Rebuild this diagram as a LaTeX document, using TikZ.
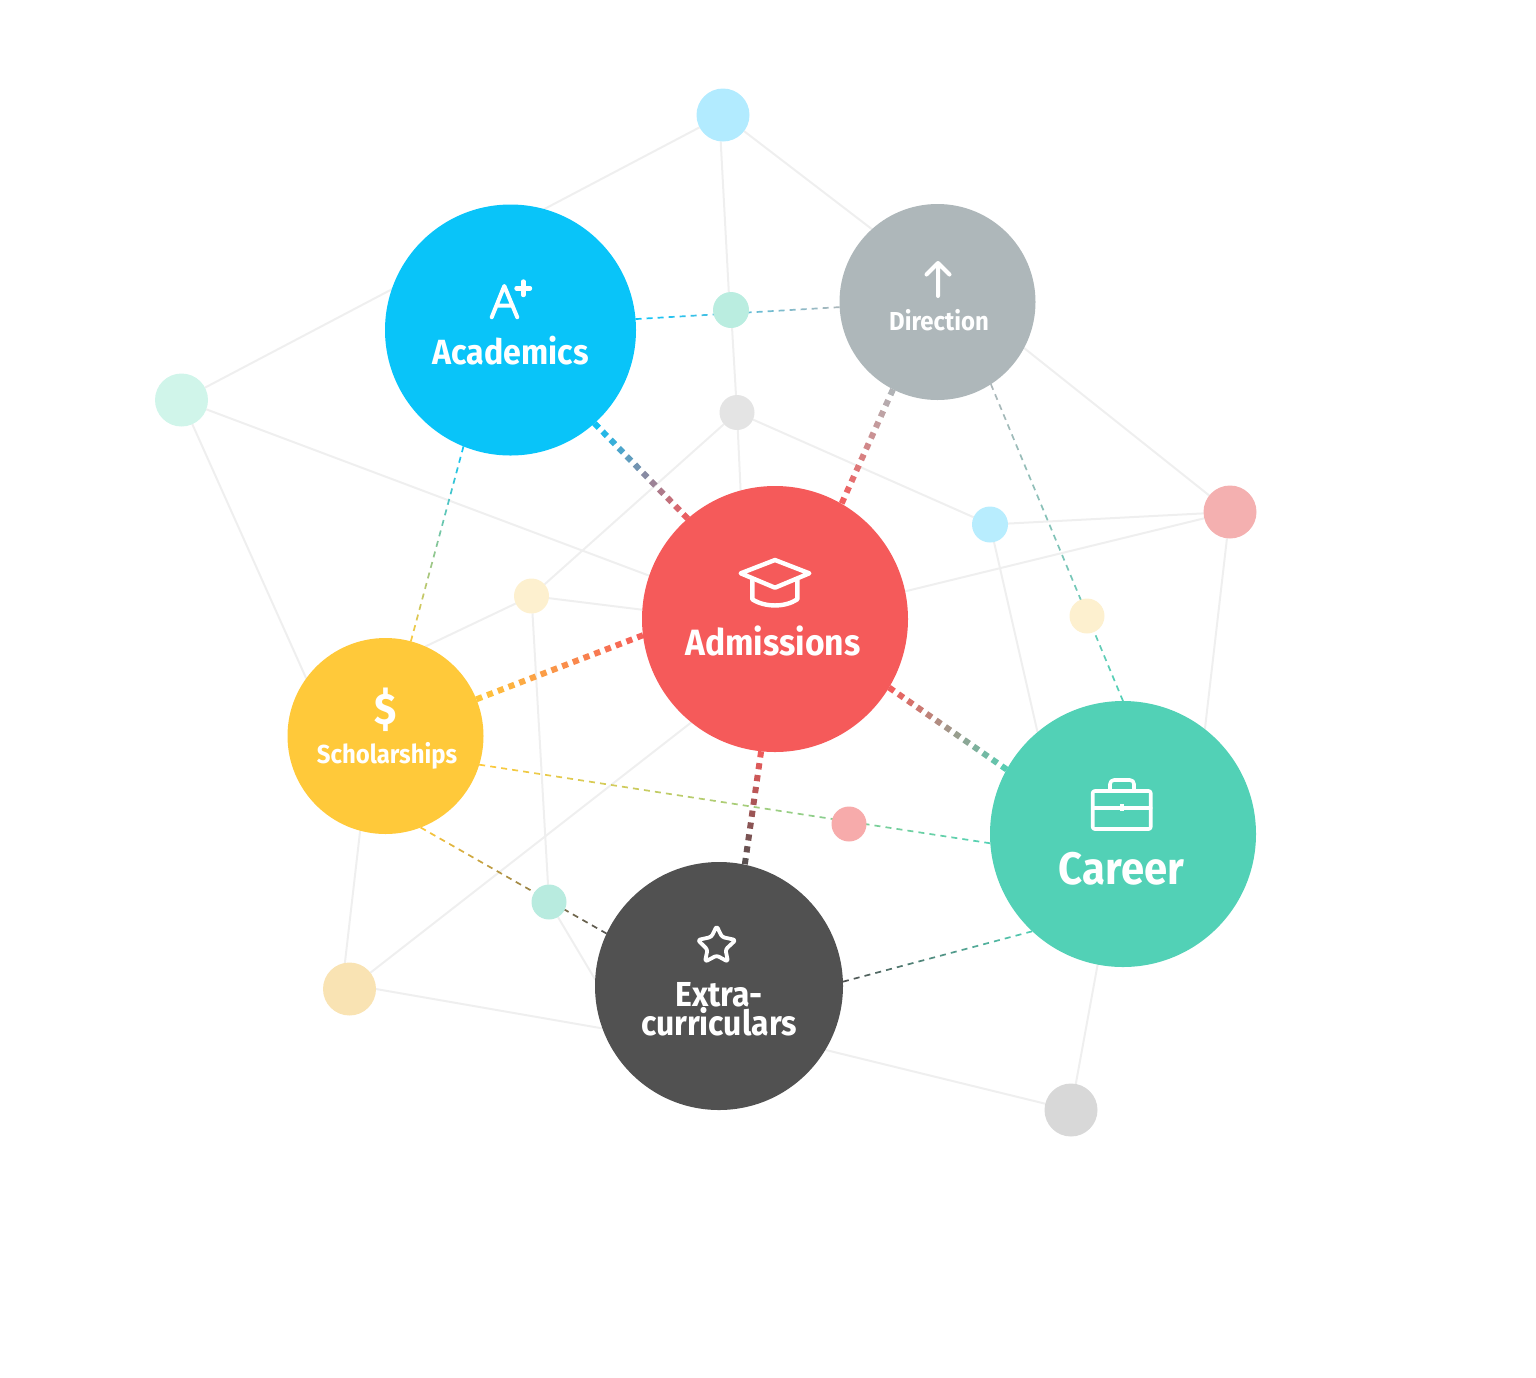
\documentclass[tikz,border=0pt]{standalone}
\usepackage{fontspec}
\setmainfont[FakeStretch=0.92]{Fira Sans Bold}
\usetikzlibrary{calc,backgrounds}
\definecolor{cAcad}{HTML}{09C4F9}
\definecolor{cDir}{HTML}{AEB7BA}
\definecolor{cAdm}{HTML}{F55A5A}
\definecolor{cSch}{HTML}{FFC93A}
\definecolor{cCar}{HTML}{52D1B6}
\definecolor{cExt}{HTML}{515151}
\definecolor{cEdge}{HTML}{EFEFEF}
\tikzset{
  hub/.style={circle,inner sep=0pt,outer sep=0pt,minimum size=#1},
  dotnode/.style={circle,inner sep=0pt,outer sep=0pt,minimum size=#1},
  edge/.style={draw=cEdge,line width=2pt},
  lbl/.style={text=white,inner sep=0pt,anchor=base},
  icon/.style={draw=white,line width=#1,line cap=round,line join=round}
}
% from, to, colour, colour, width, on, off
\newcommand{\gradlink}[7]{%
  \path (#1) -- (#2) coordinate[pos=0] (gs) coordinate[pos=1] (ge);
  \path let \p1=($(ge)-(gs)$), \n1={veclen(\x1,\y1)} in \pgfextra{\xdef\glen{\n1}};
  \pgfmathtruncatemacro\gcount{round((\glen+#7)/(#6+#7))}
  \pgfmathtruncatemacro\glast{\gcount-1}
  \pgfmathsetmacro\gper{(\glen+#7)/\gcount}
  \foreach \gi in {0,...,\glast}{
    \pgfmathsetmacro\gta{\gi*\gper/\glen}
    \pgfmathsetmacro\gtb{(\gi*\gper+#6)/\glen}
    \pgfmathtruncatemacro\gmx{100*(\gi+0.5)/\gcount}
    \draw[color=#4!\gmx!#3,line width=#5] ($(gs)!\gta!(ge)$) -- ($(gs)!\gtb!(ge)$);
  }
}
\newcommand{\thinlink}[4]{\gradlink{#1}{#2}{#3}{#4}{1.7pt}{6}{5}}
\newcommand{\thicklink}[4]{\gradlink{#1}{#2}{#3}{#4}{6pt}{6.2}{5.3}}
\begin{document}
\begin{tikzpicture}[x=1pt,y=-1pt]
\useasboundingbox (0,0) rectangle (1536,1377);
% hubs
\node[hub=251pt,fill=cAcad] (acad) at (510.5,330) {};
\node[hub=196pt,fill=cDir] (dir) at (937.5,302) {};
\node[hub=266pt,fill=cAdm] (adm) at (775,619) {};
\node[hub=196pt,fill=cSch] (sch) at (385.5,736) {};
\node[hub=266pt,fill=cCar] (car) at (1123,834) {};
\node[hub=248pt,fill=cExt] (ext) at (719,986) {};
% small nodes
\node[dotnode=53pt,fill={rgb,255:red,178;green,235;blue,255}] (top) at (723,115) {};
\node[dotnode=53pt,fill={rgb,255:red,208;green,245;blue,234}] (lmint) at (181.5,400) {};
\node[dotnode=36pt,fill={rgb,255:red,186;green,237;blue,224}] (gr) at (731,310) {};
\node[dotnode=35pt,fill={rgb,255:red,228;green,228;blue,228}] (gy) at (737,412.5) {};
\node[dotnode=36pt,fill={rgb,255:red,184;green,237;blue,254}] (bl) at (990,524.5) {};
\node[dotnode=53pt,fill={rgb,255:red,244;green,176;blue,176}] (rd) at (1230,512) {};
\node[dotnode=35pt,fill={rgb,255:red,253;green,240;blue,207}] (yr) at (1087,616) {};
\node[dotnode=35pt,fill={rgb,255:red,253;green,240;blue,207}] (yl) at (531.5,596) {};
\node[dotnode=35pt,fill={rgb,255:red,247;green,171;blue,171}] (pk) at (849,824) {};
\node[dotnode=35pt,fill={rgb,255:red,184;green,235;blue,223}] (mt) at (549,902) {};
\node[dotnode=53pt,fill={rgb,255:red,249;green,227;blue,179}] (tan) at (349.5,989) {};
\node[dotnode=53pt,fill={rgb,255:red,216;green,216;blue,216}] (gb) at (1071,1110) {};
% connectors under the circles
\begin{scope}[on background layer]
\draw[edge] (top) -- (lmint);
\draw[edge] (top.265) -- (gr.97);
\draw[edge] (gr) -- (gy);
\draw[edge] (gy) -- (adm.105);
\draw[edge] (top) -- (dir.132);
\draw[edge] (dir.-28) -- (rd);
\draw[edge] (lmint) -- (adm.161);
\draw[edge] (lmint) -- (sch.144.5);
\draw[edge] (gy) -- (yl);
\draw[edge] (gy) -- (bl);
\draw[edge] (bl) -- (rd);
\draw[edge] (bl) -- (car.130);
\draw[edge] (rd) -- (adm.12);
\draw[edge] (rd) -- (car.52);
\draw[edge] (yl) -- (adm.176);
\draw[edge] (yl) -- (sch.66);
\draw[edge] (yl) -- (mt);
\draw[edge] (mt) -- (ext.177);
\draw[edge] (tan.100) -- (sch.255);
\draw[edge] (tan.0) -- (ext.200);
\draw[edge] (tan) -- (adm.231);
\draw[edge] (ext.-31) -- (gb);
\draw[edge] (car.259) -- (gb);
\thinlink{acad.5.5}{dir.183}{cAcad}{cDir}
\thinlink{acad.248}{sch.75}{cAcad}{cSch}
\thinlink{dir.-57}{car.90}{cDir}{cCar}
\thinlink{sch.-17}{car.184.6}{cSch}{cCar}
\thinlink{sch.-69}{ext.155}{cSch}{cExt}
\thinlink{ext.2}{car.227}{cExt}{cCar}
\thicklink{acad.-48.6}{adm.131}{cAcad}{cAdm}
\thicklink{dir.243}{adm.60.2}{cDir}{cAdm}
\thicklink{sch.22.9}{adm.187}{cSch}{cAdm}
\thicklink{adm.264.4}{ext.78.2}{cAdm}{cExt}
\thicklink{adm.-31.5}{car.151.5}{cAdm}{cCar}
\end{scope}
% labels
\node[lbl,font=\fontsize{35}{35}\selectfont] (tAcad) at (510.5,364.5) {Academics};
\node[lbl,font=\fontsize{26}{26}\selectfont] (tDir) at (939,330) {Direction};
\node[lbl,font=\fontsize{36.6}{36.6}\selectfont] (tAdm) at (773,655) {Admissions};
\node[lbl,font=\fontsize{26}{26}\selectfont] (tSch) at (387,763) {Scholarships};
\node[lbl,font=\fontsize{45.5}{45.5}\selectfont] (tCar) at (1121.5,884.5) {Career};
\node[text=white,inner sep=0pt,align=center,font=\fontsize{34.7}{29}\selectfont] (tExt) at (719,1009.5) {Extra-\\curriculars};
\node[lbl,font=\fontsize{44}{44}\selectfont] (tDol) at (385.5,724) {\$};
% icons
\draw[icon=4pt] (491.7,317.3) -- (504.3,286) -- (517.3,317.3) (496.7,305.5) -- (512.7,305.5);
\draw[icon=4.4pt] (516.5,288.3) -- (530,288.3) (523.3,281.5) -- (523.3,295);
\draw[icon=4pt] (938,296) -- (938,263) (926.5,274.5) -- (938,263) -- (949.5,274.5);
\draw[icon=4.4pt] (775,560) -- (809.3,573.3) -- (775,587.7) -- (740.7,573.3) -- cycle;
\draw[icon=4.4pt] (752.3,580) -- (752.3,599.3) .. controls (765,607.5) and (785,607.5) .. (797.3,599.3) -- (797.3,580);
\draw[icon=3.6pt,rounded corners=2pt] (1092.7,791) rectangle (1150.7,829);
\draw[icon=3.6pt] (1092.7,807.7) -- (1150.7,807.7);
\draw[icon=3.6pt,rounded corners=4pt] (1110,791) -- (1110,780) -- (1134,780) -- (1134,791);
\node[fill=white,minimum width=4pt,minimum height=7pt,inner sep=0pt] (clasp) at (1121.7,807.7) {};
\draw[icon=3.8pt,rounded corners=2.5pt] (716.7,926) -- (722,937) -- (735.7,940) -- (725.5,949.5) -- (728,961.7) -- (716.7,955.5) -- (705,961.7) -- (707.5,949.5) -- (697.7,940) -- (711.3,937) -- cycle;
\end{tikzpicture}
\end{document}
